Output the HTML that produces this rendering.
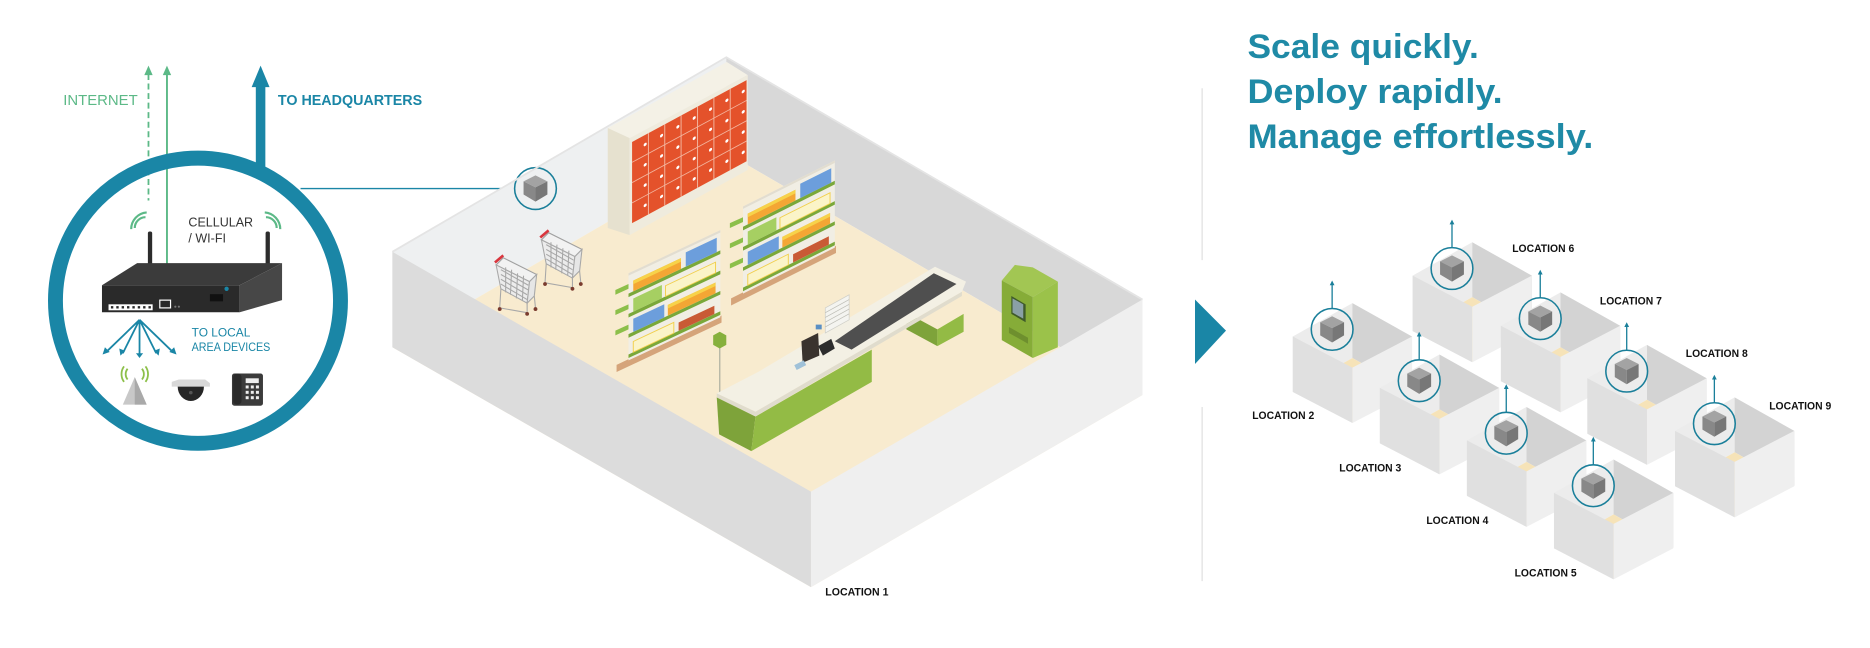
<!DOCTYPE html>
<html><head><meta charset="utf-8"><style>
html,body{margin:0;padding:0;background:#fff;width:1870px;height:648px;overflow:hidden}
svg{display:block}
text{font-family:"Liberation Sans",sans-serif}
</style></head><body>
<svg width="1870" height="648" viewBox="0 0 1870 648" xmlns="http://www.w3.org/2000/svg">
<defs>
<g id="box">
  <polygon points="-33,6 17,-22 17,24 -33,52" fill="#ececec"/>
  <polygon points="17,-22 67,6 67,52 17,24" fill="#d3d3d3"/>
  <polygon points="-33,52 17,24 67,52 17,78" fill="#f6e3b8"/>
  <polygon points="-33,6 17,32 17,78.5 -33,52.5" fill="#e0e0e0"/>
  <polygon points="17,32 67,6 67,52.5 17,78.5" fill="#efefef"/>
  <circle cx="0" cy="0" r="17.5" fill="none" stroke="#1a7f9a" stroke-width="1.3"/>
  <polygon points="0,-11 10,-6 0,-1 -10,-6" fill="#a3a3a3"/>
  <polygon points="-10,-6 0,-1 0,11 -10,5" fill="#888"/>
  <polygon points="0,-1 10,-6 10,5 0,11" fill="#777"/>
  <line x1="0" y1="-17.5" x2="0" y2="-38" stroke="#1a7f9a" stroke-width="1.1"/>
  <polygon points="-2,-37 2,-37 0,-41" fill="#1a7f9a"/>
</g>
<g id="cart" fill="none" stroke="#a8a8a8" stroke-width="0.9">
  <polygon points="0,8 28,22 34,16 6,2" fill="#f2f2f2" stroke="#a0a0a0"/>
  <polygon points="0,8 28,22 26,40 4,28" fill="#ececec"/>
  <path d="M4,12 L27,25 M4,16 L27,29 M4,20 L26,33 M4,24 L26,37 M8,10 L8,31 M13,12 L12,33 M18,15 L17,36 M23,17 L22,38"/>
  <polygon points="28,22 34,16 32,34 26,40" fill="#e6e6e6"/>
  <path d="M4,28 L3,44 M26,40 L26,48 M32,34 L33,44 M3,44 L26,48"/>
  <line x1="-1" y1="6" x2="6" y2="0" stroke="#d9363e" stroke-width="2.2"/>
  <circle cx="3" cy="45" r="1.6" fill="#7a3b2e" stroke="none"/>
  <circle cx="26" cy="49" r="1.6" fill="#7a3b2e" stroke="none"/>
  <circle cx="33" cy="45" r="1.6" fill="#7a3b2e" stroke="none"/>
</g>
<g id="gond">
  <rect x="-10" y="72" width="88" height="6" fill="#d5a47a"/>
  <rect x="0" y="0" width="77" height="73" fill="#f1eee4"/>
  <rect x="0" y="0" width="77" height="2" fill="#e2ddd0"/>
  <rect x="0" y="17" width="77" height="3" fill="#7aa83a"/>
  <rect x="0" y="34" width="77" height="3" fill="#7aa83a"/>
  <rect x="0" y="51" width="77" height="3" fill="#7aa83a"/>
  <rect x="0" y="68" width="77" height="3" fill="#7aa83a"/>
  <rect x="4" y="8" width="40" height="9" fill="#f4a634"/>
  <rect x="4" y="8" width="40" height="3" fill="#f7d24a"/>
  <rect x="48" y="5" width="26" height="12" fill="#6c9edc"/>
  <rect x="4" y="23" width="24" height="11" fill="#a6cf62"/>
  <rect x="31" y="25" width="42" height="9" fill="#fbf4c8" stroke="#f1cf4b" stroke-width="0.8"/>
  <rect x="4" y="40" width="26" height="11" fill="#6c9edc"/>
  <rect x="33" y="42" width="40" height="9" fill="#f4a634"/>
  <rect x="33" y="42" width="40" height="3" fill="#f7d24a"/>
  <rect x="4" y="59" width="34" height="9" fill="#fbf4c8" stroke="#f1cf4b" stroke-width="0.8"/>
  <rect x="42" y="61" width="30" height="7" fill="#c95a35"/>
</g>
</defs>

<g transform="scale(1.1926,1.1934)">
<text x="53" y="88" font-size="12.5" fill="#5cb987">INTERNET</text>
<line x1="124.5" y1="62" x2="124.5" y2="168" stroke="#5cb987" stroke-width="1.5" stroke-dasharray="5,3"/>
<polygon points="121,63 128,63 124.5,55" fill="#5cb987"/>
<line x1="140" y1="62" x2="140" y2="222" stroke="#5cb987" stroke-width="1.6"/>
<polygon points="136.5,63 143.5,63 140,55" fill="#5cb987"/>
<rect x="214.5" y="70" width="8" height="70" fill="#1a86a6"/>
<polygon points="211,73 226,73 218.5,55" fill="#1a86a6"/>
<text x="233" y="88" font-size="12" font-weight="bold" fill="#1a86a6" textLength="121" lengthAdjust="spacingAndGlyphs">TO HEADQUARTERS</text>
<circle cx="166" cy="252" r="119.5" fill="none" stroke="#1a86a6" stroke-width="12.5"/>
<line x1="252" y1="158" x2="431" y2="158" stroke="#1a86a6" stroke-width="1.2"/>

<text x="158" y="190" font-size="10.5" fill="#333">CELLULAR</text>
<text x="158" y="203" font-size="10.5" fill="#333">/ WI-FI</text>
<path d="M113,191 A9,9 0 0 1 122,182 M110,192 A14,14 0 0 1 123,178" fill="none" stroke="#5cb987" stroke-width="1.8"/>
<path d="M232,191 A9,9 0 0 0 223,182 M235,192 A14,14 0 0 0 222,178" fill="none" stroke="#5cb987" stroke-width="1.8"/>
<rect x="124" y="194" width="3.6" height="32" rx="1.5" fill="#2c2c2c"/>
<rect x="222.7" y="194" width="3.6" height="32" rx="1.5" fill="#2c2c2c"/>
<polygon points="85.5,239 115,220.5 236.5,220.5 201,239" fill="#3b3b3b"/>
<polygon points="85.5,239 201,239 201,261.6 85.5,261.6" fill="#2a2a2a"/>
<polygon points="201,239 236.5,220.5 236.5,251.5 201,261.6" fill="#474747"/>
<rect x="91" y="255" width="37" height="5" fill="#fff"/>
<g fill="#2a2a2a"><rect x="93" y="256.5" width="2" height="2"/><rect x="97.5" y="256.5" width="2" height="2"/><rect x="102" y="256.5" width="2" height="2"/><rect x="106.5" y="256.5" width="2" height="2"/><rect x="111" y="256.5" width="2" height="2"/><rect x="115.5" y="256.5" width="2" height="2"/><rect x="120" y="256.5" width="2" height="2"/><rect x="124.5" y="256.5" width="2" height="2"/></g>
<rect x="134" y="251.5" width="9" height="6.5" fill="#2a2a2a" stroke="#fff" stroke-width="1"/>
<circle cx="147" cy="257" r="0.9" fill="#777"/><circle cx="150" cy="257" r="0.9" fill="#777"/>
<rect x="176" y="246.5" width="11" height="6" fill="#111"/>
<circle cx="190" cy="242" r="1.8" fill="#1a86a6"/>
<g stroke="#1a86a6" stroke-width="1.5" fill="none">
<path d="M117,268 L89,295 M117,268 L103,296 M117,268 L117,297 M117,268 L131,296 M117,268 L145,295"/>
</g>
<g fill="#1a86a6">
<polygon points="86,297 88,291 92,295"/><polygon points="101,298 100,292 105,294"/><polygon points="114,296 120,296 117,300"/><polygon points="133,298 129,294 134,292"/><polygon points="148,297 142,295 146,291"/>
</g>
<text x="160.7" y="282" font-size="10" fill="#1a86a6">TO LOCAL</text>
<text x="160.7" y="294" font-size="10" fill="#1a86a6" textLength="66" lengthAdjust="spacingAndGlyphs">AREA DEVICES</text>
<polygon points="113,316 103,339 123,339" fill="#c8c8c8"/>
<polygon points="113,316 113,339 123,339" fill="#a9a9a9"/>
<path d="M107,318 A7,7 0 0 1 107,309 M119,318 A7,7 0 0 0 119,309 M104,320 A11,11 0 0 1 104,307 M122,320 A11,11 0 0 0 122,307" fill="none" stroke="#8dc04a" stroke-width="1.5"/>
<polygon points="144,320 150,318 172,318 176,321 176,324 144,324" fill="#d8d8d8"/>
<path d="M149,324 L171,324 A11,12 0 0 1 149,324 Z" fill="#262626"/>
<circle cx="160" cy="329" r="1.5" fill="#555"/>
<rect x="194.5" y="313" width="26" height="27" rx="2" fill="#3b3b3b"/>
<rect x="195.5" y="313" width="7" height="26" rx="3" fill="#2a2a2a"/>
<rect x="206" y="317" width="11" height="4" fill="#eee"/>
<g fill="#eee"><rect x="206" y="323" width="2.5" height="2.5"/><rect x="210.3" y="323" width="2.5" height="2.5"/><rect x="214.6" y="323" width="2.5" height="2.5"/><rect x="206" y="327.5" width="2.5" height="2.5"/><rect x="210.3" y="327.5" width="2.5" height="2.5"/><rect x="214.6" y="327.5" width="2.5" height="2.5"/><rect x="206" y="332" width="2.5" height="2.5"/><rect x="210.3" y="332" width="2.5" height="2.5"/><rect x="214.6" y="332" width="2.5" height="2.5"/></g>

<polygon points="609,48 329,211 329,291 609,128" fill="#eef0f1"/>
<polygon points="609,48 958,251 958,331 609,128" fill="#d8d8d8"/>
<polygon points="609,128 329,291 680,492 958,331" fill="#f8ebcf"/>
<polygon points="509.6,107.3 609.4,52 627,63 528,115.7" fill="#f4f1e6"/>
<polygon points="509.6,107.3 528,115.7 528,197 509.6,191" fill="#e6e1cf"/>
<polygon points="528,115.7 627,63 627,142.5 528,197" fill="#efebdd"/>
<g transform="translate(530,119) matrix(1,-0.54,0,1,0,0)">
<rect x="0" y="0" width="96" height="68" fill="#e4522b"/>
<g stroke="#f3b59f" stroke-width="0.8">
<line x1="13.7" y1="0" x2="13.7" y2="68"/><line x1="27.4" y1="0" x2="27.4" y2="68"/><line x1="41.1" y1="0" x2="41.1" y2="68"/><line x1="54.9" y1="0" x2="54.9" y2="68"/><line x1="68.6" y1="0" x2="68.6" y2="68"/><line x1="82.3" y1="0" x2="82.3" y2="68"/>
<line x1="0" y1="17" x2="96" y2="17"/><line x1="0" y1="34" x2="96" y2="34"/><line x1="0" y1="51" x2="96" y2="51"/>
</g>
<g fill="#fff">
<circle cx="11" cy="8" r="1.3"/><circle cx="24.7" cy="8" r="1.3"/><circle cx="38.4" cy="8" r="1.3"/><circle cx="52.1" cy="8" r="1.3"/><circle cx="65.8" cy="8" r="1.3"/><circle cx="79.5" cy="8" r="1.3"/><circle cx="93.2" cy="8" r="1.3"/>
<circle cx="11" cy="25" r="1.3"/><circle cx="24.7" cy="25" r="1.3"/><circle cx="38.4" cy="25" r="1.3"/><circle cx="52.1" cy="25" r="1.3"/><circle cx="65.8" cy="25" r="1.3"/><circle cx="79.5" cy="25" r="1.3"/><circle cx="93.2" cy="25" r="1.3"/>
<circle cx="11" cy="42" r="1.3"/><circle cx="24.7" cy="42" r="1.3"/><circle cx="38.4" cy="42" r="1.3"/><circle cx="52.1" cy="42" r="1.3"/><circle cx="65.8" cy="42" r="1.3"/><circle cx="79.5" cy="42" r="1.3"/><circle cx="93.2" cy="42" r="1.3"/>
<circle cx="11" cy="59" r="1.3"/><circle cx="24.7" cy="59" r="1.3"/><circle cx="38.4" cy="59" r="1.3"/><circle cx="52.1" cy="59" r="1.3"/><circle cx="65.8" cy="59" r="1.3"/><circle cx="79.5" cy="59" r="1.3"/><circle cx="93.2" cy="59" r="1.3"/>
</g>
</g>
<circle cx="449" cy="158" r="17.5" fill="none" stroke="#1a7f9a" stroke-width="1.3"/>
<polygon points="449,147 459,152 449,157 439,152" fill="#a3a3a3"/>
<polygon points="439,152 449,157 449,169 439,163" fill="#888"/>
<polygon points="449,157 459,152 459,163 449,169" fill="#777"/>
<use href="#cart" x="454" y="193"/>
<use href="#cart" x="416" y="214"/>
<g transform="translate(623,173) matrix(1,-0.5,0,1,0,0)"><use href="#gond"/></g>
<g fill="#8cbf4a"><polygon points="612,187 623,182 623,186 612,191"/><polygon points="612,204 623,199 623,203 612,208"/><polygon points="612,221 623,216 623,220 612,225"/></g>
<g transform="translate(527,229) matrix(1,-0.47,0,1,0,0)"><use href="#gond"/></g>
<g fill="#8cbf4a"><polygon points="516,243 527,238 527,242 516,247"/><polygon points="516,260 527,255 527,259 516,264"/><polygon points="516,277 527,272 527,276 516,281"/></g>
<polygon points="840,235 851,222 866,224 887,236 866,249" fill="#a2c653"/>
<polygon points="840,235 866,249 866,300 840,285" fill="#86ac38"/>
<polygon points="866,249 887,236 887,291 866,300" fill="#9bc24a"/>
<polygon points="848,248 860,255 860,270 848,263" fill="#3f5a2a"/>
<polygon points="849,250 858,255 858,267 849,262" fill="#8aa0a6"/>
<polygon points="846,274 862,283 862,288 846,279" fill="#6e8f2e"/>
<line x1="603.5" y1="289" x2="603.5" y2="330" stroke="#b8b8a8" stroke-width="1.2"/>
<polygon points="598,281 603.5,278 609,281 609,289 603.5,292 598,289" fill="#86b03d"/>
<polygon points="760,262 786,276 786,290 760,276" fill="#7ea33a"/>
<polygon points="786,276 808,263 808,278 786,290" fill="#93bb45"/>
<polygon points="601,333 633.5,349 630,378 603,364" fill="#7ea33a"/>
<polygon points="633.5,349 731,293 731,320 630,378" fill="#93bb45"/>
<polygon points="601,329.6 636,311.5 784,223.5 810,236 806.6,244.5 633.5,345" fill="#f3f0e4"/>
<polygon points="601,329.6 633.5,345 633.5,349 601,333" fill="#e0dccd"/>
<polygon points="633.5,345 806.6,244.5 806.6,248 633.5,349" fill="#e0dccd"/>
<polygon points="700,286 783,229 802,238 714,293" fill="#4f4f4f"/>
<polygon points="692,258 712,247 712,268 692,279" fill="#f4f4f0" stroke="#cfcfc8" stroke-width="0.6"/>
<g stroke="#bdbdb5" stroke-width="0.6"><line x1="692" y1="262" x2="712" y2="251"/><line x1="692" y1="266" x2="712" y2="255"/><line x1="692" y1="270" x2="712" y2="259"/><line x1="692" y1="274" x2="712" y2="263"/></g>
<polygon points="672,286 686,279 687,298 673,304" fill="#3a332e"/>
<polygon points="686,290 697,284 700,292 690,298" fill="#2d2d2d"/>
<rect x="684" y="272" width="5" height="4" fill="#5a8fc4"/>
<polygon points="666,306 674,302 676,306 668,310" fill="#9fc1d8"/>
<polygon points="329,211 680,412 680,492 329,291" fill="#dcdcdc"/>
<polygon points="680,412 958,251 958,331 680,492" fill="#efefef"/>
<polyline points="329,211 609,48 958,251" fill="none" stroke="#e4e4e4" stroke-width="1.5"/>
<text x="692" y="499" font-size="9.5" font-weight="bold" fill="#111" textLength="53" lengthAdjust="spacingAndGlyphs">LOCATION 1</text>

<line x1="1008" y1="74" x2="1008" y2="218" stroke="#e0e0e0" stroke-width="1"/>
<line x1="1008" y1="341" x2="1008" y2="487" stroke="#e0e0e0" stroke-width="1"/>
<polygon points="1002,251 1028,277 1002,305" fill="#1a86a6"/>
<g font-weight="bold" font-size="29" fill="#1f8aa6">
<text x="1046" y="48.5" textLength="194" lengthAdjust="spacingAndGlyphs">Scale quickly.</text>
<text x="1046" y="86.5" textLength="214" lengthAdjust="spacingAndGlyphs">Deploy rapidly.</text>
<text x="1046" y="124" textLength="290" lengthAdjust="spacingAndGlyphs">Manage effortlessly.</text>
</g>
<use href="#box" x="1217.5" y="225"/>
<use href="#box" x="1291.5" y="267"/>
<use href="#box" x="1117" y="276"/>
<use href="#box" x="1364" y="311"/>
<use href="#box" x="1190" y="319"/>
<use href="#box" x="1437.5" y="355"/>
<use href="#box" x="1263" y="363"/>
<use href="#box" x="1336" y="407"/>
<g font-size="9.5" font-weight="bold" fill="#111">
<text x="1268" y="211" textLength="52" lengthAdjust="spacingAndGlyphs">LOCATION 6</text>
<text x="1341.5" y="255" textLength="52" lengthAdjust="spacingAndGlyphs">LOCATION 7</text>
<text x="1413.5" y="299" textLength="52" lengthAdjust="spacingAndGlyphs">LOCATION 8</text>
<text x="1483.5" y="343" textLength="52" lengthAdjust="spacingAndGlyphs">LOCATION 9</text>
<text x="1050" y="351" textLength="52" lengthAdjust="spacingAndGlyphs">LOCATION 2</text>
<text x="1123" y="395" textLength="52" lengthAdjust="spacingAndGlyphs">LOCATION 3</text>
<text x="1196" y="439" textLength="52" lengthAdjust="spacingAndGlyphs">LOCATION 4</text>
<text x="1270" y="483" textLength="52" lengthAdjust="spacingAndGlyphs">LOCATION 5</text>
</g>
</g>
</svg>
</body></html>
